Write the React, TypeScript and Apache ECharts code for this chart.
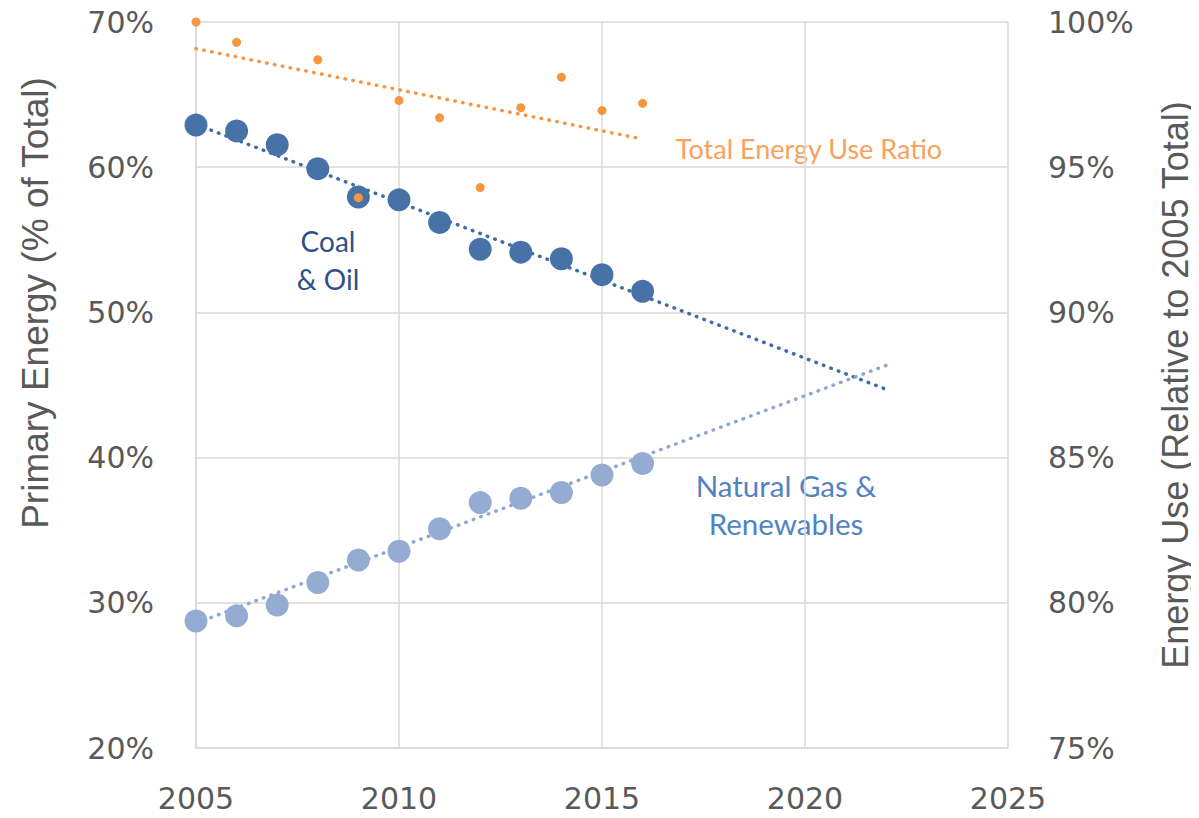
import React, { useEffect, useRef } from "react";
import * as echarts from "echarts";

const years = [2005, 2006, 2007, 2008, 2009, 2010, 2011, 2012, 2013, 2014, 2015, 2016];
const coalOil = [62.9, 62.5, 61.55, 59.9, 57.95, 57.75, 56.2, 54.35, 54.15, 53.7, 52.6, 51.45];
const gasRenew = [28.75, 29.1, 29.85, 31.4, 32.95, 33.55, 35.1, 36.9, 37.2, 37.6, 38.8, 39.6];
const energyUse = [100.0, 99.3, null, 98.7, 93.95, 97.3, 96.7, 94.3, 97.05, 98.1, 96.95, 97.2];
const coalTrendYears = [2005, 2022];
const coalTrend = [62.95, 44.7];
const gasTrendYears = [2005, 2022];
const gasTrend = [28.6, 46.35];
const useTrendYears = [2005, 2016];
const useTrend = [99.08, 95.97];

const leftTitle = "Primary Energy (% of Total)";
const rightTitle = "Energy Use (Relative to 2005 Total)";

const zip = (xs: number[], ys: (number | null)[]) =>
  xs.map((x, i) => [x, ys[i]]).filter((p) => p[1] !== null);

export default function App() {
  const ref = useRef<HTMLDivElement>(null);
  useEffect(() => {
    if (!ref.current) return;
    const chart = echarts.init(ref.current, null, { renderer: "svg" });
    const tickFont = { fontFamily: "DejaVu Sans", fontSize: 30, color: "#595959" };
    const dash = { width: 3.5, type: [0.5, 7.5] as any, cap: "round" as any };
    chart.setOption({
      animation: false,
      backgroundColor: "#ffffff",
      grid: { left: 196, right: 191, top: 22, bottom: 70, containLabel: false },
      xAxis: {
        type: "value",
        min: 2005,
        max: 2025,
        interval: 5,
        axisLine: { show: true, lineStyle: { color: "#d9d9d9", width: 1.5 } },
        axisTick: { show: false },
        splitLine: { show: true, lineStyle: { color: "#d9d9d9", width: 1.5 } },
        axisLabel: { ...tickFont, margin: 35, formatter: (v: number) => String(v) },
      },
      yAxis: [
        {
          type: "value",
          min: 20,
          max: 70,
          interval: 10,
          axisLine: { show: true, lineStyle: { color: "#d9d9d9", width: 1.5 } },
          axisTick: { show: false },
          splitLine: { show: true, lineStyle: { color: "#d9d9d9", width: 1.5 } },
          axisLabel: { ...tickFont, margin: 42, formatter: (v: number) => v + "%" },
        },
        {
          type: "value",
          min: 75,
          max: 100,
          interval: 5,
          position: "right",
          axisLine: { show: false },
          axisTick: { show: false },
          splitLine: { show: false },
          axisLabel: { ...tickFont, margin: 40, formatter: (v: number) => v + "%" },
        },
      ],
      series: [
        {
          type: "line",
          data: zip(coalTrendYears, coalTrend),
          yAxisIndex: 0,
          symbol: "none",
          lineStyle: { ...dash, color: "#3F6CA6" },
          z: 2,
        },
        {
          type: "line",
          data: zip(gasTrendYears, gasTrend),
          yAxisIndex: 0,
          symbol: "none",
          lineStyle: { ...dash, color: "#8EA8D3" },
          z: 2,
        },
        {
          type: "line",
          data: zip(useTrendYears, useTrend),
          yAxisIndex: 1,
          symbol: "none",
          lineStyle: { ...dash, color: "#F79646" },
          z: 2,
        },
        {
          type: "scatter",
          data: zip(years, gasRenew),
          yAxisIndex: 0,
          symbolSize: 23,
          itemStyle: { color: "#94ABD2", opacity: 1 },
          z: 3,
        },
        {
          type: "scatter",
          data: zip(years, coalOil),
          yAxisIndex: 0,
          symbolSize: 23,
          itemStyle: { color: "#4672A8", opacity: 1 },
          z: 3,
        },
        {
          type: "scatter",
          data: zip(years, energyUse),
          yAxisIndex: 1,
          symbolSize: 9,
          itemStyle: { color: "#F7963F", opacity: 1 },
          z: 4,
        },
      ],
      graphic: [
        {
          type: "text",
          x: 35,
          y: 303,
          rotation: Math.PI / 2,
          style: {
            text: leftTitle,
            fill: "#595959",
            font: "37px 'Liberation Sans'",
            align: "center",
            verticalAlign: "middle",
          },
        },
        {
          type: "text",
          x: 1175,
          y: 385,
          rotation: Math.PI / 2,
          style: {
            text: rightTitle,
            fill: "#595959",
            font: "36px 'Liberation Sans'",
            align: "center",
            verticalAlign: "middle",
          },
        },
        {
          type: "text",
          x: 809,
          y: 148,
          style: {
            text: "Total Energy Use Ratio",
            fill: "#F8A25C",
            font: "27px Lato",
            align: "center",
            verticalAlign: "middle",
          },
        },
        {
          type: "text",
          x: 328,
          y: 260,
          style: {
            text: "Coal\n& Oil",
            fill: "#2F5189",
            font: "28px Lato",
            lineHeight: 38,
            align: "center",
            verticalAlign: "middle",
          },
        },
        {
          type: "text",
          x: 786,
          y: 504,
          style: {
            text: "Natural Gas &\nRenewables",
            fill: "#5083C3",
            font: "29.5px Lato",
            lineHeight: 38,
            align: "center",
            verticalAlign: "middle",
          },
        },
      ],
    });
    return () => chart.dispose();
  }, []);
  return <div ref={ref} style={{ width: 1199, height: 818, margin: -8 }} />;
}
